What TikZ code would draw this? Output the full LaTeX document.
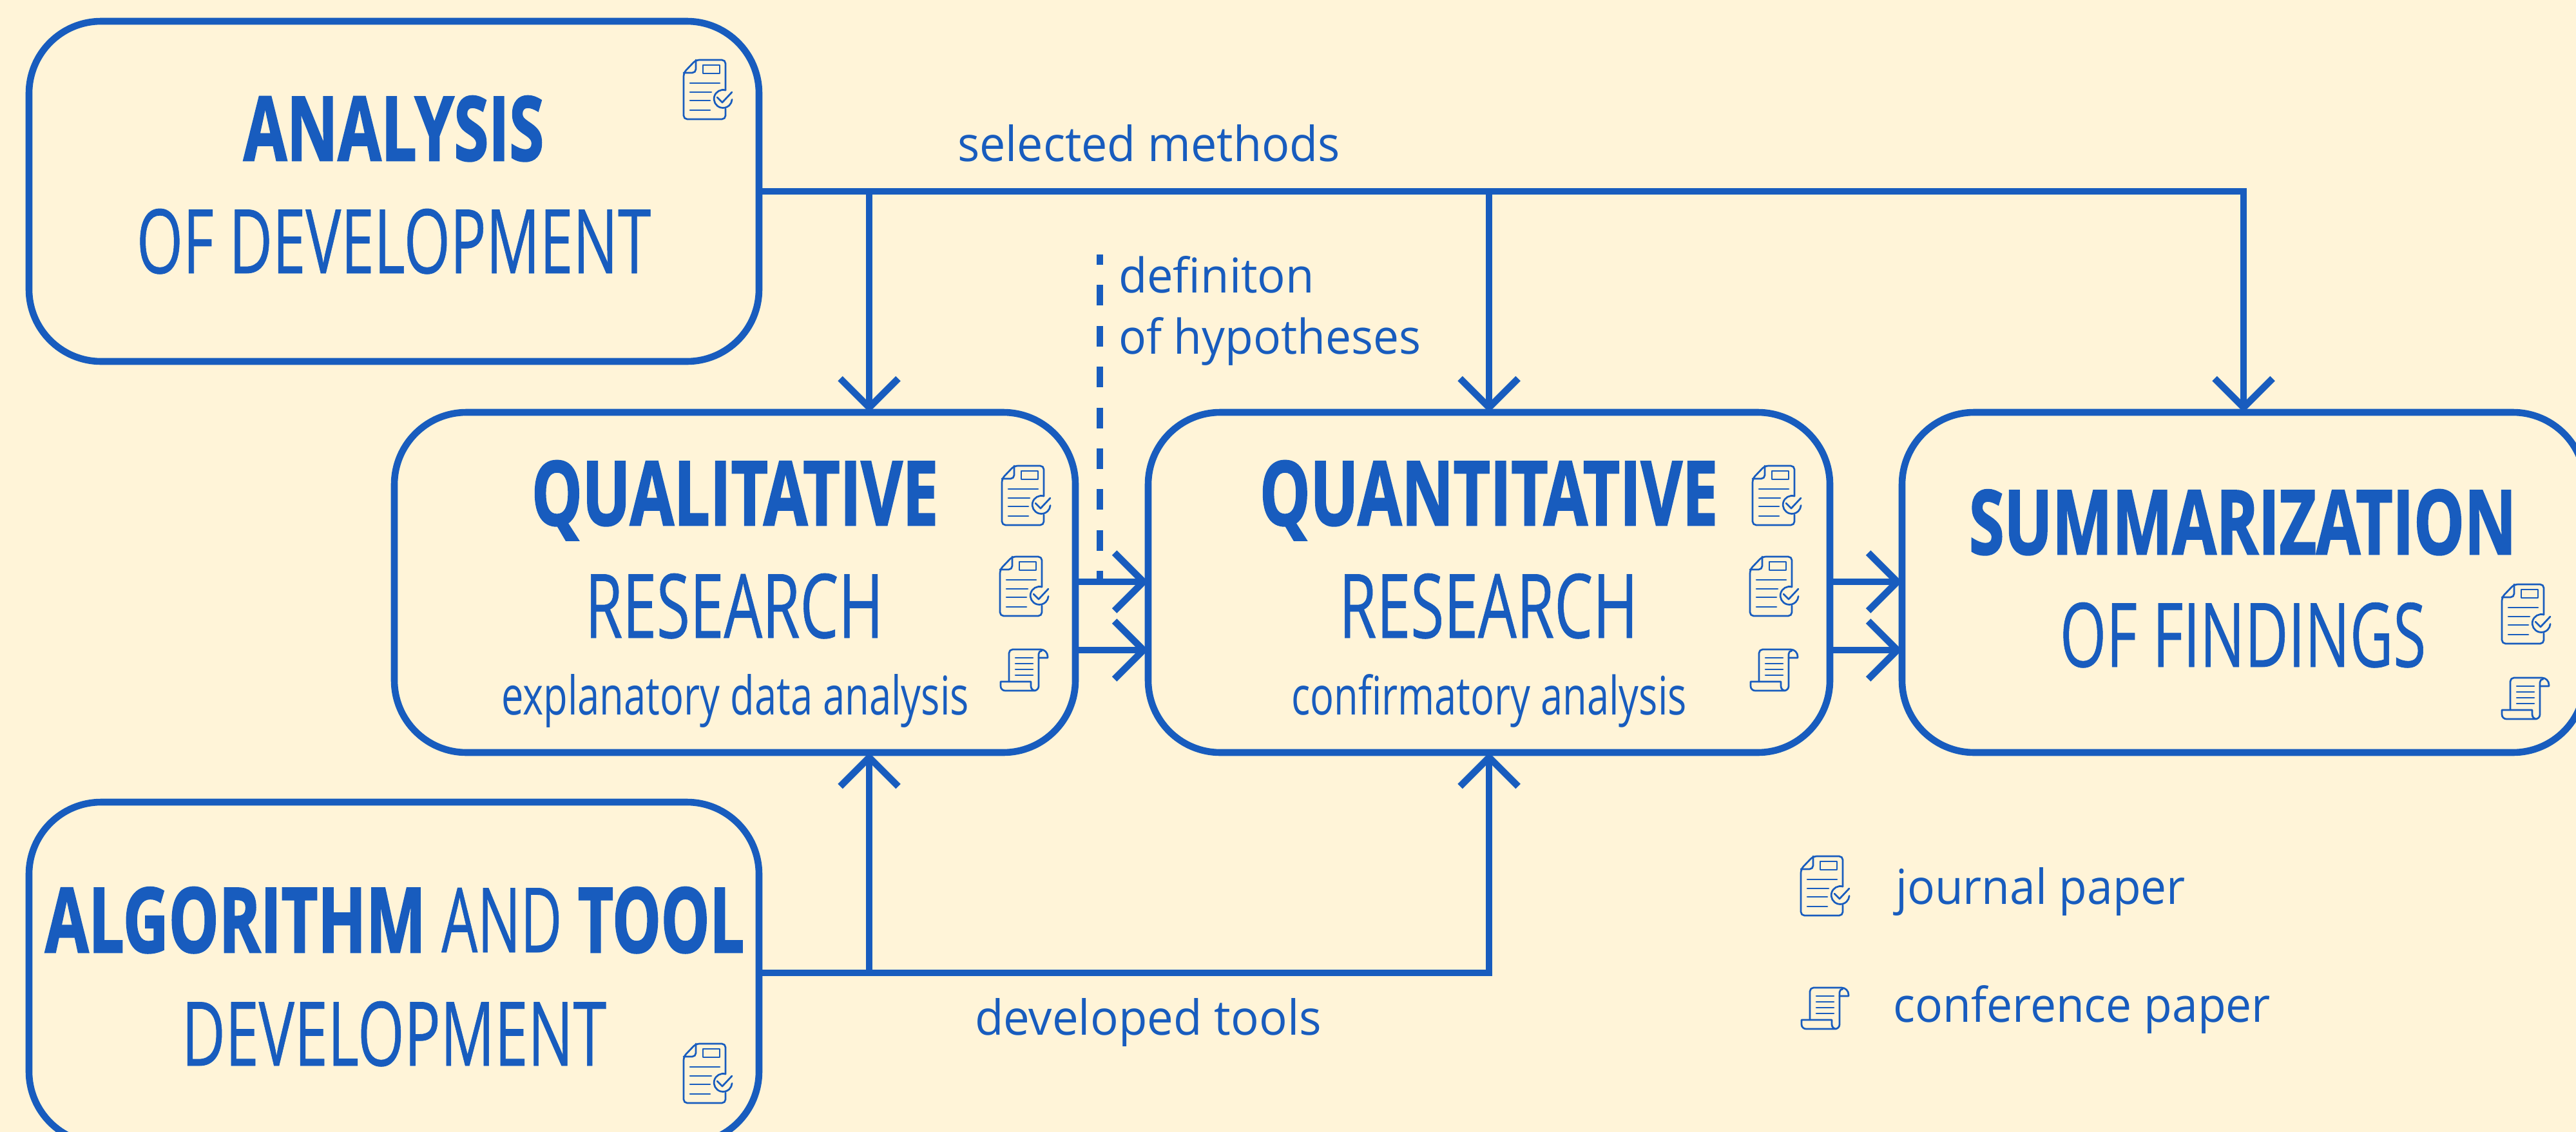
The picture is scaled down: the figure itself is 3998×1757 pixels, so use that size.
\documentclass[tikz,border=0pt]{standalone}
\usepackage{fontspec}
\usepackage{graphicx}
\setmainfont{Open Sans}
\newfontfamily\capsfont[FakeBold=0.6,BoldFeatures={FakeBold=2}]{Open Sans}
\usetikzlibrary{arrows.meta}
\definecolor{inkblue}{HTML}{185CBE}
\definecolor{paper}{HTML}{FFF4D8}
% fitted text: width, height in reference pixels
\newdimen\ux \ux=0.25pt
\newcommand\fit[3]{\resizebox{#1\ux}{#2\ux}{#3}}
\newcommand\capfit[3]{\fit{#1}{#2}{\capsfont #3}}
\newcommand\hv[1]{{\bfseries #1}}
\tikzset{
  x=0.25pt,y=-0.25pt,
  stage/.style={draw=inkblue,line width=2.65pt,rounded corners=28pt,inner sep=0pt,outer sep=0pt,fill=none},
  conn/.style={draw=inkblue,line width=2.65pt,line cap=butt,line join=miter},
  arr/.style={conn,-{Straight Barb[length=11.25pt,width=22.5pt]}},
  txt/.style={anchor=base west,inner sep=0pt,outer sep=0pt,text=inkblue},
  iconline/.style={draw=inkblue,line width=0.68pt,line cap=round,line join=round},
  jicon/.pic={
    \draw[iconline,rounded corners=1.4pt] (65,47) -- (65,0) -- (19,0) -- (0,20) -- (0,92) -- (65,92) -- (65,76);
    \draw[iconline,rounded corners=1.4pt] (19,0) -- (19,20) -- (0,20);
    \draw[iconline] (30,8) rectangle (56,21);
    \draw[iconline] (10,36) -- (56,36) (10,50) -- (43,50) (10,63) -- (41,63) (10,78) -- (41,78);
    \draw[iconline] (65,47) arc[start angle=286,end angle=4,radius=14];
    \draw[iconline] (52,58) -- (60,66) -- (75,50);
  },
  cicon/.pic={
    \draw[iconline,rounded corners=1.4pt] (13,50) -- (13,0) -- (62,0);
    \draw[iconline] (62,0) arc[start angle=270,end angle=360,radius=11] -- (73,13) -- (59,13);
    \draw[iconline] (59,13) -- (59,7) arc[start angle=180,end angle=270,radius=5];
    \draw[iconline] (59,13) -- (59,57) arc[start angle=0,end angle=90,radius=7] -- (7,64) arc[start angle=90,end angle=180,radius=7] -- (0,50) -- (47,50) -- (47,57) arc[start angle=180,end angle=90,radius=7];
    \draw[iconline] (23,13) -- (50,13) (23,22) -- (50,22) (23,31) -- (50,31) (23,40) -- (50,40);
  },
}
\begin{document}
\begin{tikzpicture}
\path[fill=paper] (0,0) rectangle (3998,1757);
\useasboundingbox (0,0) rectangle (3998,1757);
\clip (0,0) rectangle (3998,1757);

% stages
\node[stage,minimum width=283.25pt,minimum height=132pt] (an) at (611.5,297) {};
\node[stage,minimum width=264.25pt,minimum height=132pt] (qual) at (1140.5,904) {};
\node[stage,minimum width=264.5pt,minimum height=132pt] (quant) at (2311,904) {};
\node[stage,minimum width=265pt,minimum height=132pt] (sum) at (3482,904) {};
\node[stage,minimum width=283.25pt,minimum height=132.5pt] (algo) at (611.5,1510) {};

% connectors
\coordinate (sb1) at (1349,297);
\coordinate (tb1) at (1349,1510);
\coordinate (h1) at (1669,903);
\coordinate (h2) at (1669,1009);
\coordinate (k1) at (2840,903);
\coordinate (k2) at (2840,1009);
\coordinate (dtop) at (1707,395);
\draw[arr] (an.east) -| (sum.north);
\draw[arr] (sb1) -- (sb1 |- qual.north);
\draw[arr] (an.east -| quant.north) -- (quant.north);
\draw[arr] (algo.east) -| (quant.south);
\draw[arr] (tb1) -- (tb1 |- qual.south);
\draw[arr] (h1) -- (h1 -| quant.west);
\draw[arr] (h2) -- (h2 -| quant.west);
\draw[arr] (k1) -- (k1 -| sum.west);
\draw[arr] (k2) -- (k2 -| sum.west);
\draw[conn,dash pattern=on 8pt off 7.85pt,dash phase=4pt] (dtop) -- (dtop |- h1);

% texts
\node[txt] (t1) at (378,249) {\capfit{466}{100}{\hv{ANALYSIS}}};
\node[txt] (t2) at (212,424) {\capfit{798}{100}{OF DEVELOPMENT}};
\node[txt] (t3) at (1486,250) {\fit{594}{57}{selected methods}};
\node[txt] (t4) at (1736,454) {\fit{304}{57}{definiton}};
\node[txt] (t5) at (1736,549) {\fit{469}{57}{of hypotheses}};
\node[txt] (t6) at (825,815) {\capfit{631}{100}{\hv{QUALITATIVE}}};
\node[txt] (t7) at (908,990) {\capfit{463}{100}{RESEARCH}};
\node[txt] (t8) at (778,1109) {\fit{726}{63}{explanatory data analysis}};
\node[txt] (t9) at (1955,815) {\capfit{711}{100}{\hv{QUANTITATIVE}}};
\node[txt] (t10) at (2078,990) {\capfit{464}{100}{RESEARCH}};
\node[txt] (t11) at (2004,1109) {\fit{614}{63}{confirmatory analysis}};
\node[txt] (t12) at (3056,860) {\capfit{849}{100}{\hv{SUMMARIZATION}}};
\node[txt] (t13) at (3197,1035) {\capfit{568}{100}{OF FINDINGS}};
\node[txt] (t14) at (70,1478) {\capfit{1085}{101}{\scalebox{1.03}[1]{\hv{ALGORITHM}} \scalebox{0.93}[1]{AND} \hv{TOOL}}};
\node[txt] (t15) at (282,1654) {\capfit{659}{100}{DEVELOPMENT}};
\node[txt] (t16) at (1513,1606) {\fit{538}{57}{developed tools}};
\node[txt] (t17) at (2942,1403) {\fit{450}{57}{journal paper}};
\node[txt] (t18) at (2938,1586) {\fit{586}{57}{conference paper}};

% icons
\pic at (1061,93) {jicon};
\pic at (1555,723) {jicon};
\pic at (1552,864) {jicon};
\pic at (1553,1008) {cicon};
\pic at (2720,723) {jicon};
\pic at (2716,864) {jicon};
\pic at (2717,1008) {cicon};
\pic at (3883,907) {jicon};
\pic at (3883,1052) {cicon};
\pic at (1061,1620) {jicon};
\pic at (2795,1329) {jicon};
\pic at (2796,1533) {cicon};
\end{tikzpicture}
\end{document}
